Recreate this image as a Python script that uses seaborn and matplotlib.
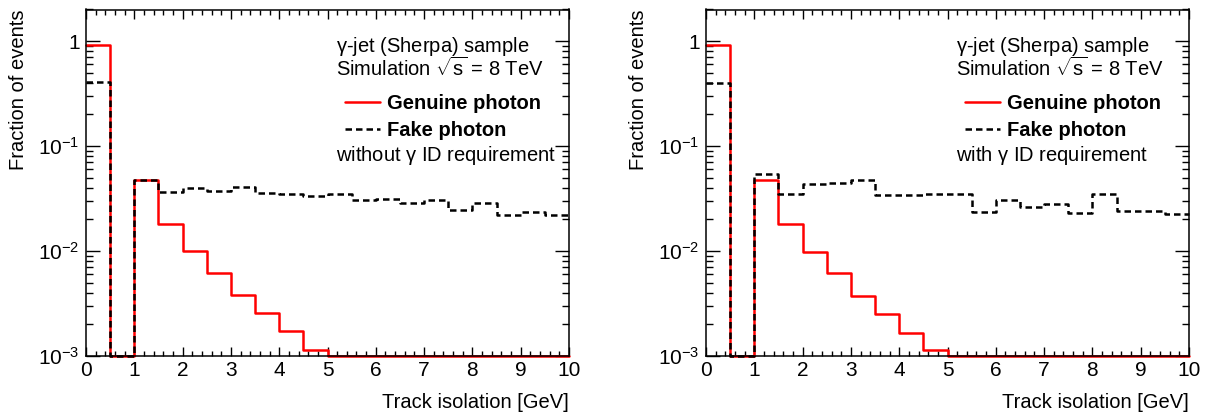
import numpy as np
import pandas as pd
import matplotlib
matplotlib.use("Agg")
import matplotlib.pyplot as plt
import seaborn as sns
from matplotlib.lines import Line2D
from matplotlib.ticker import MultipleLocator, LogLocator, NullFormatter

# ---------------- data ----------------
bin_edges = np.arange(0, 10.5, 0.5)
bin_centers = bin_edges[:-1] + 0.25

genuine_without = [0.914, 0.0, 0.0480, 0.0182, 0.0099, 0.00622, 0.00379, 0.00259,
                   0.00173, 0.00113, 0, 0, 0, 0, 0, 0, 0, 0, 0, 0]
fake_without = [0.410, 0.0, 0.0478, 0.0367, 0.0398, 0.0373, 0.0407, 0.0359,
                0.0352, 0.0334, 0.0352, 0.0304, 0.0313, 0.0284, 0.0308, 0.0244,
                0.0284, 0.0219, 0.0235, 0.0219]
genuine_with = [0.910, 0.0, 0.0480, 0.0179, 0.0098, 0.00617, 0.00370, 0.00253,
                0.00167, 0.00113, 0, 0, 0, 0, 0, 0, 0, 0, 0, 0]
fake_with = [0.398, 0.0, 0.0545, 0.0352, 0.0431, 0.0447, 0.0471, 0.0339,
             0.0343, 0.0346, 0.0352, 0.0235, 0.0308, 0.0262, 0.0282, 0.0232,
             0.0346, 0.0239, 0.0239, 0.0227]

x_ticks = list(range(0, 11))
y_ticks = [1e-3, 1e-2, 1e-1, 1]
y_tick_labels = [r"$10^{-3}$", r"$10^{-2}$", r"$10^{-1}$", "1"]
panel_notes = ["without $\\gamma$ ID requirement", "with $\\gamma$ ID requirement"]
header_lines = [r"$\gamma$-jet (Sherpa) sample", r"Simulation $\sqrt{\mathrm{s}}$ = 8 TeV"]
series_labels = ["Genuine photon", "Fake photon"]
x_label = "Track isolation [GeV]"
y_label = "Fraction of events"

YMIN, YMAX = 1e-3, 2.0

# ---------------- style ----------------
sns.set_style("ticks")
plt.rcParams["font.family"] = ["Liberation Sans", "DejaVu Sans"]
plt.rcParams["mathtext.fontset"] = "custom"
plt.rcParams["mathtext.rm"] = "Liberation Sans"
plt.rcParams["mathtext.it"] = "Liberation Sans:italic"
plt.rcParams["mathtext.bf"] = "Liberation Sans:bold"
plt.rcParams["mathtext.default"] = "rm"
for key in ["text.color", "axes.labelcolor", "xtick.color", "ytick.color",
            "xtick.labelcolor", "ytick.labelcolor"]:
    plt.rcParams[key] = "black"

W, H = 1206, 417
fig = plt.figure(figsize=(W / 100, H / 100), dpi=100)

LW = 1.8
DASH = (2.6, 1.6)
FS = 14.5

panels = [
    (86, genuine_without, fake_without, panel_notes[0]),
    (706, genuine_with, fake_with, panel_notes[1]),
]

for left_px, gen, fake, note in panels:
    ax = fig.add_axes([left_px / W, (H - 356) / H, 483 / W, 346.5 / H])
    df = pd.DataFrame({
        "x": bin_centers,
        "gen": np.clip(np.asarray(gen, float), YMIN, None),
        "fake": np.clip(np.asarray(fake, float), YMIN, None),
    })
    sns.histplot(data=df, x="x", weights="gen", binwidth=0.5, binrange=(0, 10),
                 element="step", fill=False, color="#ff0000", linewidth=LW,
                 ax=ax, clip_on=False)
    sns.histplot(data=df, x="x", weights="fake", binwidth=0.5, binrange=(0, 10),
                 element="step", fill=False, color="black", linewidth=LW,
                 linestyle=(0, DASH), ax=ax, clip_on=False)
    ax.set_yscale("log")
    ax.set_xlim(0, 10)
    ax.set_ylim(YMIN, YMAX)
    ax.set_xlabel("")
    ax.set_ylabel("")

    ax.set_xticks(x_ticks)
    ax.set_xticklabels([str(t) for t in x_ticks])
    ax.xaxis.set_minor_locator(MultipleLocator(0.2))
    ax.set_yticks(y_ticks)
    ax.set_yticklabels(y_tick_labels)
    ax.yaxis.set_minor_locator(LogLocator(base=10, subs=np.arange(2, 10)))
    ax.yaxis.set_minor_formatter(NullFormatter())

    ax.tick_params(axis="both", which="both", direction="in", top=True, right=True,
                   colors="black", width=1.0)
    ax.tick_params(axis="x", which="major", length=6.5, pad=3.5, labelsize=15)
    ax.tick_params(axis="x", which="minor", length=3.3)
    ax.tick_params(axis="y", which="major", length=10, pad=4.5, labelsize=15)
    ax.tick_params(axis="y", which="minor", length=5)
    for sp in ax.spines.values():
        sp.set_visible(True)
        sp.set_linewidth(1.1)
        sp.set_color("black")

    tx = 0.5176
    ax.text(tx, 0.892, header_lines[0], transform=ax.transAxes, fontsize=FS,
            ha="left", va="center")
    ax.text(tx, 0.831, header_lines[1], transform=ax.transAxes, fontsize=FS,
            ha="left", va="center")
    ax.text(tx, 0.580, note, transform=ax.transAxes, fontsize=FS,
            ha="left", va="center")

    handles = [Line2D([], [], color="#ff0000", lw=LW),
               Line2D([], [], color="black", lw=LW, linestyle=(0, DASH))]
    ax.legend(handles, series_labels, loc="upper left",
              bbox_to_anchor=(0.536, 0.756), frameon=False, borderpad=0,
              borderaxespad=0, handlelength=1.75, handletextpad=0.35,
              labelspacing=0.38, prop={"weight": "bold", "size": FS})

    # axis titles (ROOT style: right / top aligned)
    fig.text((left_px + 483) / W, (H - 402) / H, x_label, fontsize=FS,
             ha="right", va="center")
    fig.text((left_px - 67) / W, (H - 10) / H, y_label, fontsize=FS,
             rotation=90, ha="center", va="top")

fig.savefig("out.png", dpi=100)
